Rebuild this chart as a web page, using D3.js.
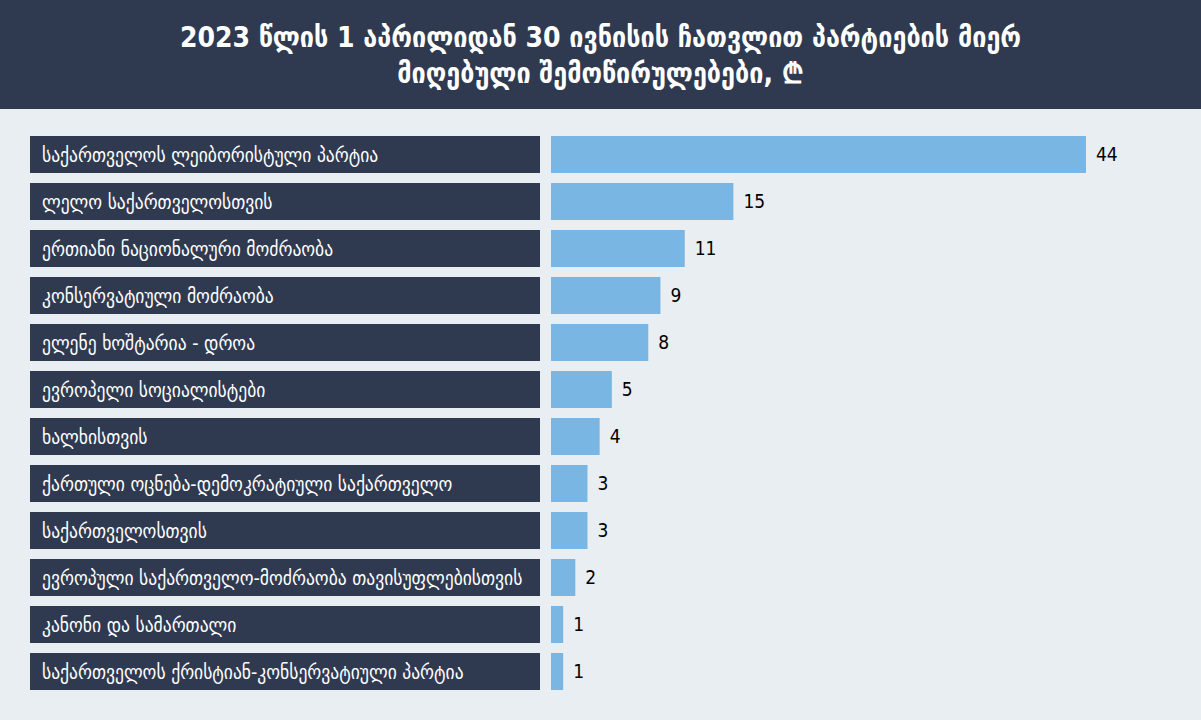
<!DOCTYPE html>
<html>
<head>
<meta charset="utf-8">
<script src="https://cdn.jsdelivr.net/npm/d3@7"></script>
<style>
  body { margin: 0; background: #e8eef1; }
  svg { display: block; font-family: "DejaVu Sans Condensed", "DejaVu Sans", sans-serif; }
</style>
</head>
<body>
<div id="chart"></div>
<script>
// title lines
var titleLines = [
    "2023 წლის 1 აპრილიდან 30 ივნისის ჩათვლით პარტიების მიერ",
    "მიღებული შემოწირულებები, ₾"
];

// parties, sorted by amount
var parties = [
    "საქართველოს ლეიბორისტული პარტია",
    "ლელო საქართველოსთვის",
    "ერთიანი ნაციონალური მოძრაობა",
    "კონსერვატიული მოძრაობა",
    "ელენე ხოშტარია - დროა",
    "ევროპელი სოციალისტები",
    "ხალხისთვის",
    "ქართული ოცნება-დემოკრატიული საქართველო",
    "საქართველოსთვის",
    "ევროპული საქართველო-მოძრაობა თავისუფლებისთვის",
    "კანონი და სამართალი",
    "საქართველოს ქრისტიან-კონსერვატიული პარტია"
];

var amounts = [44, 15, 11, 9, 8, 5, 4, 3, 3, 2, 1, 1];

var width = 1201, height = 720;

var svg = d3.select("#chart").append("svg")
    .attr("width", width)
    .attr("height", height);

svg.append("rect")
    .attr("width", width).attr("height", height)
    .attr("fill", "#e8eef1");

// header band
svg.append("rect")
    .attr("width", width).attr("height", 109)
    .attr("fill", "#2f3a51");

svg.selectAll("text.title")
    .data(titleLines)
    .enter().append("text")
    .attr("class", "title")
    .attr("x", width / 2)
    .attr("y", function(d, i) { return 47 + i * 36; })
    .attr("text-anchor", "middle")
    .attr("fill", "#ffffff")
    .attr("font-size", 28)
    .attr("font-weight", "bold")
    .text(function(d) { return d; });

// scales
var y = d3.scaleBand()
    .domain(parties)
    .range([136, 690])
    .paddingInner(0.213)
    .paddingOuter(0);

var x = d3.scaleLinear()
    .domain([0, 44])
    .range([551, 1086]);

var rows = svg.selectAll("g.row")
    .data(parties)
    .enter().append("g")
    .attr("class", "row")
    .attr("transform", function(d) { return "translate(0," + y(d) + ")"; });

// label boxes
rows.append("rect")
    .attr("x", 30)
    .attr("width", 510)
    .attr("height", y.bandwidth())
    .attr("fill", "#2f3a51");

rows.append("text")
    .attr("x", 42)
    .attr("y", y.bandwidth() / 2)
    .attr("dy", "0.36em")
    .attr("fill", "#ffffff")
    .attr("font-size", 19.5)
    .text(function(d) { return d; });

// bars
rows.append("rect")
    .attr("x", x(0))
    .attr("width", function(d, i) { return x(amounts[i]) - x(0); })
    .attr("height", y.bandwidth())
    .attr("fill", "#7ab6e3");

rows.append("text")
    .attr("x", function(d, i) { return x(amounts[i]) + 10; })
    .attr("y", y.bandwidth() / 2)
    .attr("dy", "0.36em")
    .attr("fill", "#000000")
    .attr("font-size", 19)
    .attr("font-weight", 500)
    .text(function(d, i) { return amounts[i]; });
</script>
</body>
</html>
